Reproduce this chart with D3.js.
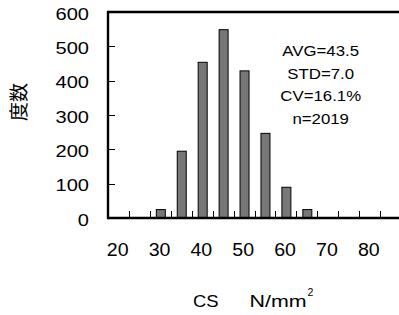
<!DOCTYPE html>
<html><head><meta charset="utf-8">
<script src="https://cdn.jsdelivr.net/npm/d3@7"></script>
<style>
html,body{margin:0;padding:0;background:#fff;}
svg{display:block;font-family:"Liberation Sans",Arial,sans-serif;}
</style></head>
<body>
<svg id="c" width="399" height="315"></svg>
<script>
const categories = [20,25,30,35,40,45,50,55,60,65,70,75,80,85];
const counts     = [0,0,26,196,455,550,430,248,91,26,0,0,0,0];
const xTickLabels = [20,30,40,50,60,70,80];
const yTicks = [0,100,200,300,400,500,600];
const statsLines = ["AVG=43.5","STD=7.0","CV=16.1%","n=2019"];
const yTitle = "度数";
const xTitleA = "CS", xTitleB = "N/mm", xTitleSup = "2";

const svg = d3.select("#c");
const L = 108, R = 401, T = 12, B = 218;
const x = d3.scaleBand().domain(categories).range([L, R]).padding(0);
const y = d3.scaleLinear().domain([0, 600]).range([B, T]);
const bw = x.bandwidth() * 0.43;

// bars
svg.append("g").selectAll("rect").data(categories.map((c,i)=>({c,v:counts[i]})).filter(d=>d.v>0))
  .join("rect")
  .attr("x", d => x(d.c) + x.bandwidth()/2 - bw/2 + 0.5)
  .attr("y", d => y(d.v) + 0.5)
  .attr("width", bw)
  .attr("height", d => y(0) - y(d.v))
  .attr("fill", "#777")
  .attr("stroke", "#000")
  .attr("stroke-width", 1);

// x minor ticks (category boundaries), inward
svg.append("g").selectAll("line").data(categories.slice(1))
  .join("line")
  .attr("x1", d => Math.round(x(d)) + 0.5).attr("x2", d => Math.round(x(d)) + 0.5)
  .attr("y1", B).attr("y2", B - 7)
  .attr("stroke", "#000").attr("stroke-width", 1);

// y ticks inward
svg.append("g").selectAll("line").data(yTicks.filter(t => t > 0 && t < 600))
  .join("line")
  .attr("x1", L).attr("x2", L + 7)
  .attr("y1", d => Math.round(y(d)) + 0.5).attr("y2", d => Math.round(y(d)) + 0.5)
  .attr("stroke", "#000").attr("stroke-width", 1);

// frame
const frame = svg.append("g").attr("stroke", "#000").attr("stroke-width", 2.4).attr("fill", "none");
frame.append("line").attr("x1", L).attr("x2", L).attr("y1", T - 1.2).attr("y2", B + 1.2);
frame.append("line").attr("x1", L).attr("x2", R).attr("y1", T).attr("y2", T);
frame.append("line").attr("x1", L).attr("x2", R).attr("y1", B).attr("y2", B);

// y tick labels
svg.append("g").selectAll("text").data(yTicks).join("text")
  .attr("transform", d => `translate(89,${y(d) + 7.5}) scale(1.18,1)`)
  .attr("text-anchor", "end")
  .attr("font-size", 17)
  .attr("fill", "#000")
  .text(d => d);

// x tick labels
svg.append("g").selectAll("text").data(xTickLabels).join("text")
  .attr("transform", d => `translate(${x(d) + x.bandwidth()/2 - 0.8},256) scale(1.12,1)`)
  .attr("text-anchor", "middle")
  .attr("font-size", 17.5)
  .attr("fill", "#000")
  .text(d => d);

// stats
svg.append("g").selectAll("text").data(statsLines).join("text")
  .attr("transform", (d,i) => `translate(320.7,${56 + i*22.7}) scale(1.2,1)`)
  .attr("text-anchor", "middle")
  .attr("font-size", 14)
  .attr("fill", "#000")
  .text(d => d);

// y title
svg.append("text")
  .attr("transform", "translate(26,102) rotate(-90)")
  .attr("text-anchor", "middle")
  .attr("font-family", "'Noto Sans CJK JP','Noto Sans CJK SC',sans-serif")
  .attr("font-size", 19)
  .attr("fill", "#000")
  .text(yTitle);

// x title
svg.append("text")
  .attr("transform", "translate(193,306.5) scale(1.12,1)")
  .attr("font-size", 16.5).attr("fill", "#000").text(xTitleA);
svg.append("text")
  .attr("x", 249.5).attr("y", 306.5)
  .attr("font-size", 16.5).attr("fill", "#000")
  .attr("textLength", 57).attr("lengthAdjust", "spacingAndGlyphs")
  .text(xTitleB);
svg.append("text")
  .attr("x", 307.5).attr("y", 296)
  .attr("font-size", 10.5).attr("fill", "#000").text(xTitleSup);
</script>
</body></html>
